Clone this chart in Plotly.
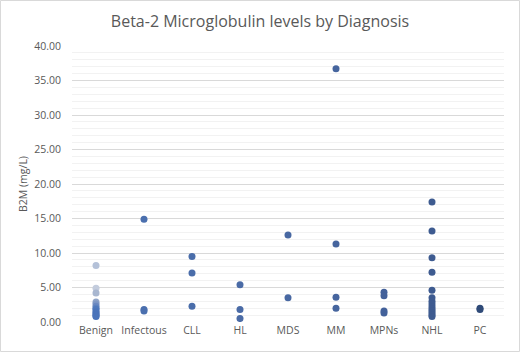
import plotly.graph_objects as go

categories = ["Benign", "Infectous", "CLL", "HL", "MDS", "MM", "MPNs", "NHL", "PC"]
benign = [8.2, 4.9, 4.2, 2.9, 2.6, 2.3, 2.0, 1.8, 1.5, 1.3, 1.1, 0.9, 0.8]
infectous = [14.9, 1.8, 1.6]
cll = [9.5, 7.1, 2.3]
hl = [5.4, 1.8, 0.5]
mds = [12.6, 3.5]
mm = [36.7, 11.3, 3.6, 2.0]
mpns = [4.3, 3.8, 1.6, 1.3]
nhl = [17.4, 13.2, 9.3, 7.2, 4.6, 3.5, 3.0, 2.6, 2.2, 1.9, 1.6, 1.3, 1.0, 0.8]
pc = [2.0, 1.8]

series = [benign, infectous, cll, hl, mds, mm, mpns, nhl, pc]
colors = ["#4A74B8", "#4A6FAE", "#4A6DAA", "#4A6BA6", "#4868A2", "#46659E", "#43619A", "#3E5B90", "#2F4A78"]
benign_colors = ["#B4C1D8", "#C3CCDD", "#A9B7D0", "#8FA4C8", "#7E97C4", "#6A88C0", "#5A80BE", "#4E78BC",
                 "#4A74BA", "#4A74BA", "#4A74BA", "#4A74BA", "#4A74BA"]

fig = go.Figure()
for i, (cat, vals) in enumerate(zip(categories, series)):
    col = benign_colors if cat == "Benign" else colors[i]
    fig.add_trace(go.Scatter(
        x=[cat] * len(vals), y=vals, mode="markers",
        marker=dict(size=7, color=col, line=dict(width=0)),
        showlegend=False, name=cat,
    ))

font = "Open Sans, Liberation Sans, sans-serif"
fig.update_layout(
    width=520, height=352,
    margin=dict(l=72, r=16, t=46, b=30, autoexpand=False),
    paper_bgcolor="white", plot_bgcolor="white",
    title=dict(text="Beta-2 Microglobulin levels by Diagnosis", x=0.5, xanchor="center",
               y=0.94, yanchor="middle", font=dict(family=font, size=16, color="#595959")),
    font=dict(family=font, color="#595959", size=10),
    xaxis=dict(type="category", categoryorder="array", categoryarray=categories,
               range=[-0.5, 8.5], automargin=False,
               showgrid=False, showline=False, ticks="", tickfont=dict(size=10.5, color="#595959")),
    yaxis=dict(range=[0, 40], dtick=5, tickformat=".2f", showline=False, zeroline=False,
               automargin=False,
               gridcolor="#D9D9D9", gridwidth=1, ticks="", ticklabelstandoff=10,
               minor=dict(dtick=1, showgrid=True, gridcolor="#F2F2F2", gridwidth=1),
               title=dict(text="B2M (mg/L)", font=dict(size=10.5, color="#595959"), standoff=4),
               tickfont=dict(size=10.5, color="#595959")),
    shapes=[dict(type="rect", xref="paper", yref="paper", x0=-71.5/432, x1=1+15.5/432,
                 y0=-29.5/276, y1=1+45.5/276, line=dict(color="#D9D9D9", width=1))],
)

fig.write_html("out.html", config={"displayModeBar": False},
               post_script="document.body.style.margin='0';")
